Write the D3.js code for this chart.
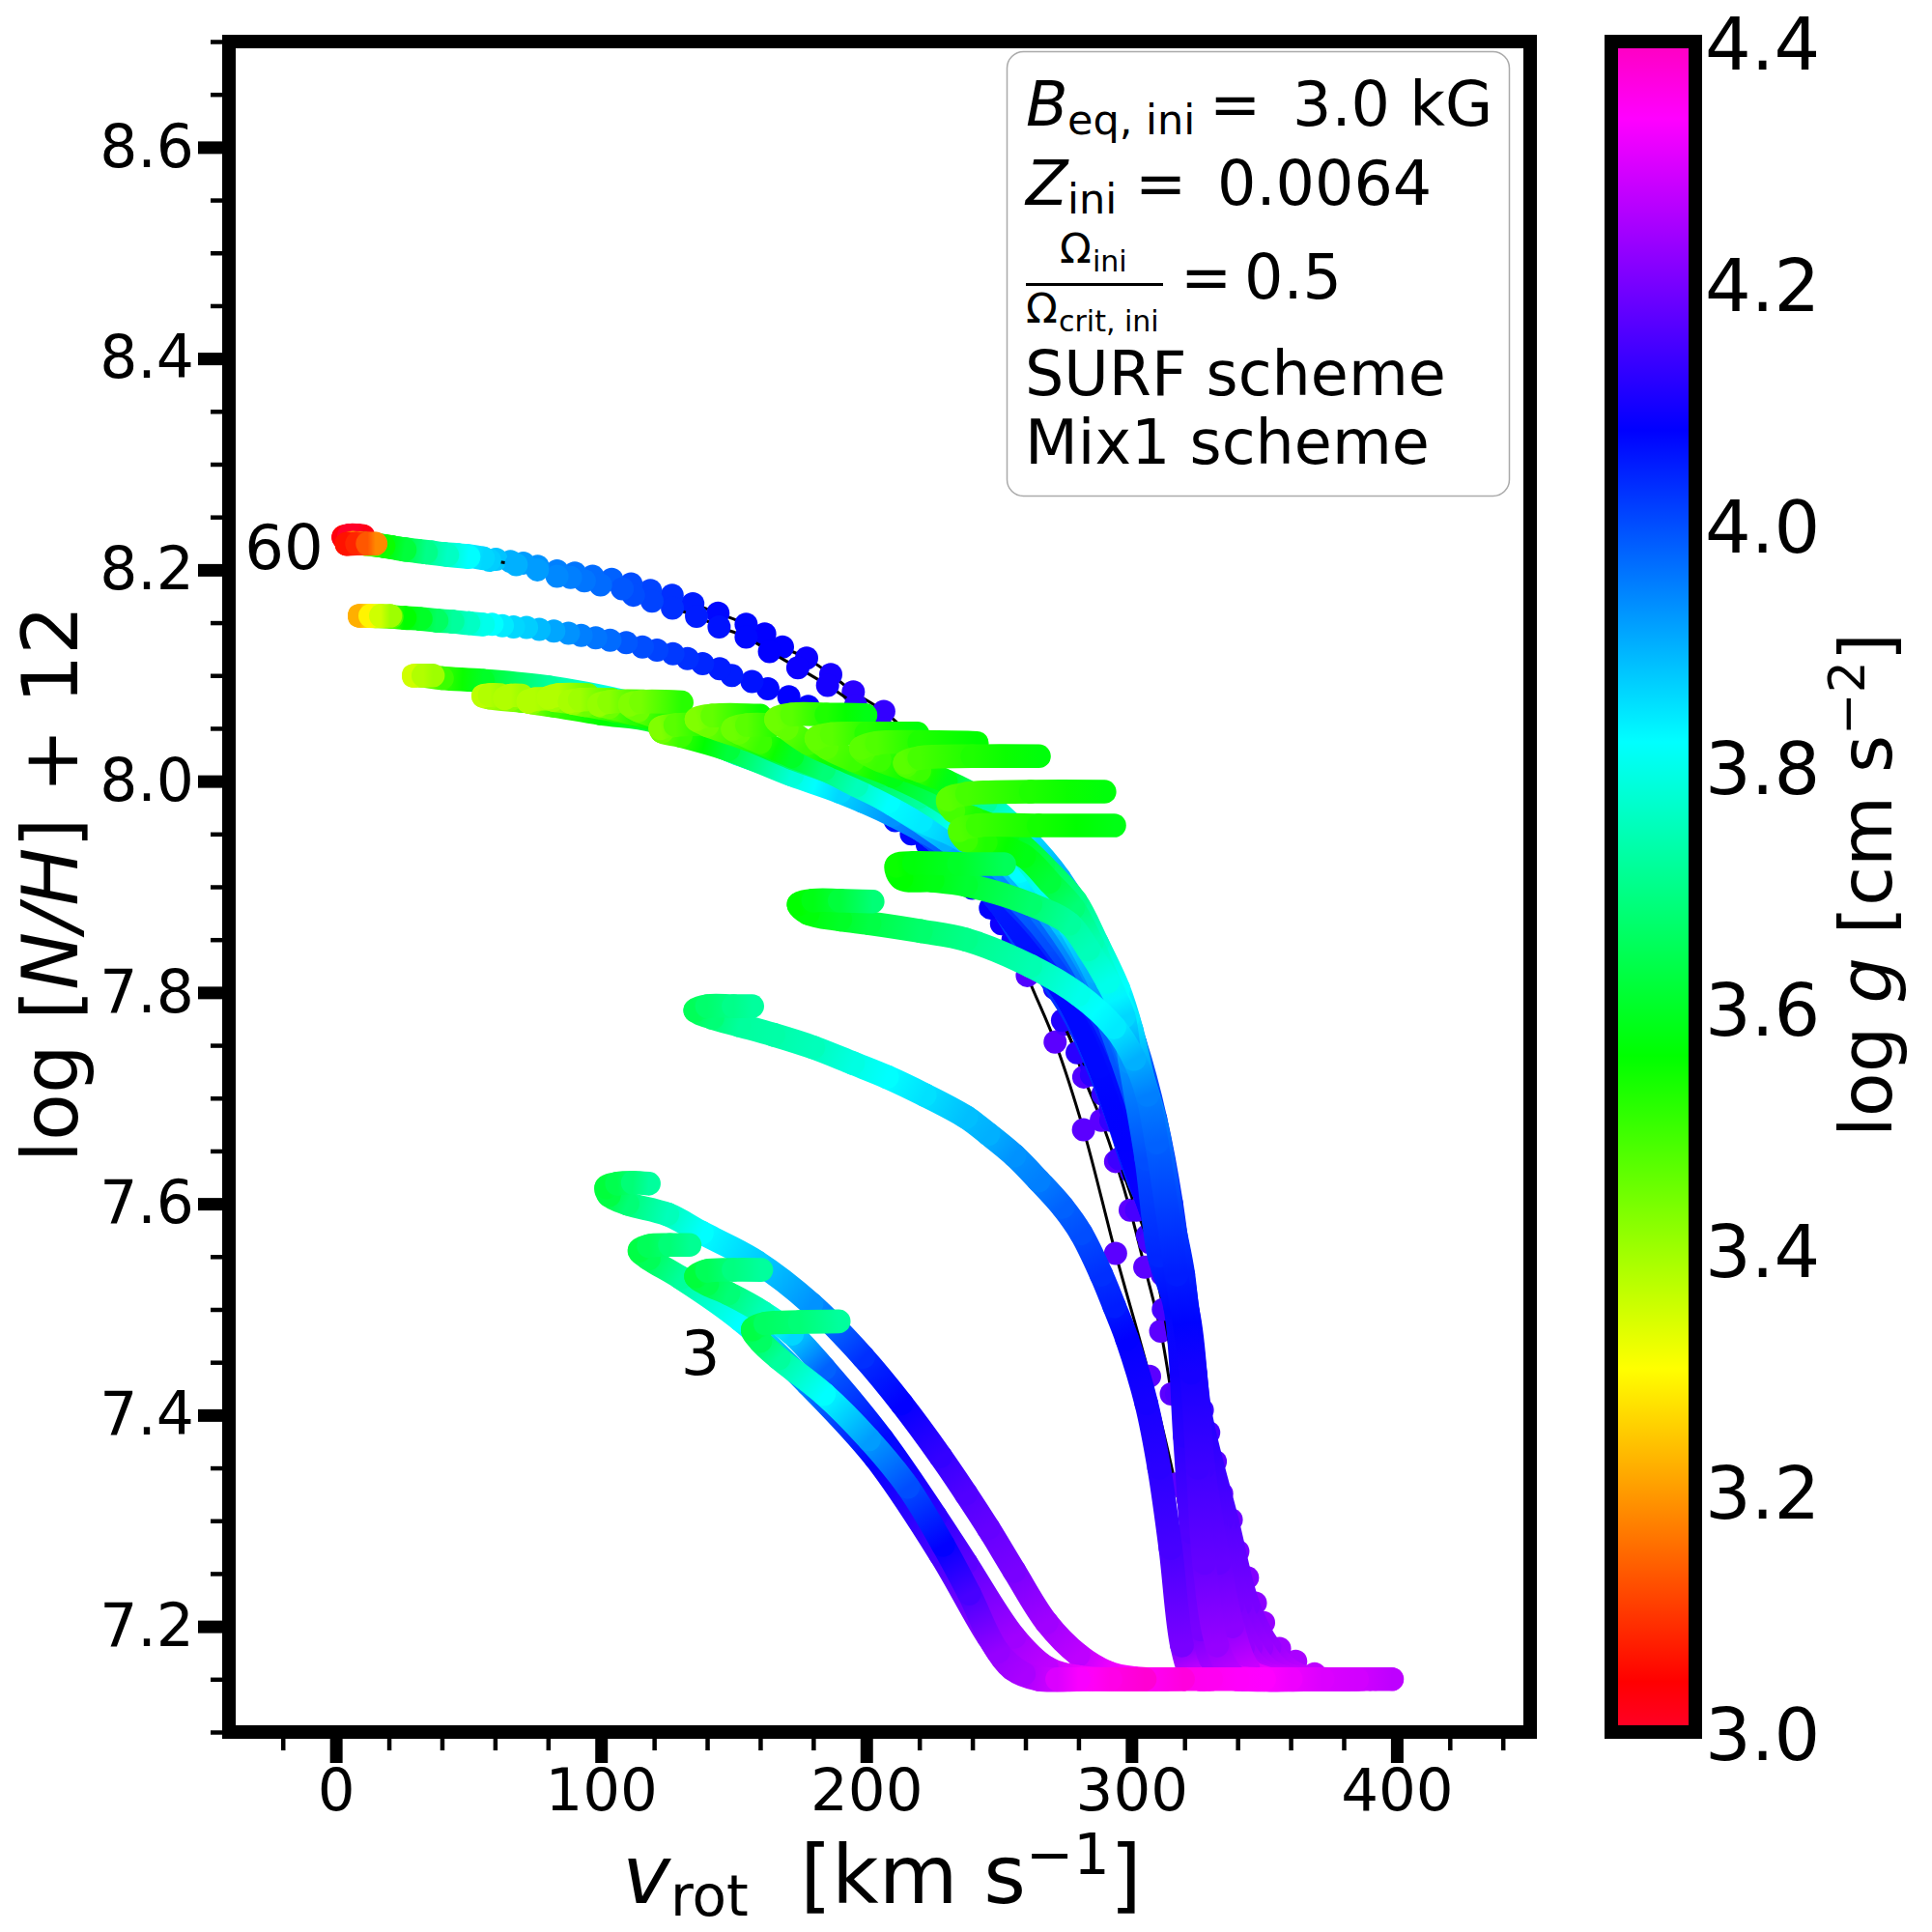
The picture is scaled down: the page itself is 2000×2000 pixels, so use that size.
<!DOCTYPE html>
<html>
<head>
<meta charset="utf-8">
<script src="https://cdn.jsdelivr.net/npm/d3@7"></script>
<style>
  body { margin: 0; background: #fff; }
  text { font-family: "DejaVu Sans"; fill: #000; white-space: pre; }
</style>
</head>
<body>
<div id="chart"></div>
<script>
const SIZE = { width: 2000, height: 2000 }
const AXES = { left: 237, right: 1584, top: 43, bottom: 1793 }
const CBAR = { left: 1668, right: 1755, top: 43, bottom: 1793 }
const DOT_RADIUS = 12
const BAND_WIDTH = 24.6

const xDomain = [-40.3, 450.3]
const yDomain = [7.1, 8.7]
const gDomain = [3.0, 4.4]
const xMajor = [0, 100, 200, 300, 400]
const xMinor = [-20, 20, 40, 60, 80, 120, 140, 160, 180, 220, 240, 260, 280, 320, 340, 360, 380, 420, 440]
const yMajor = [7.2, 7.4, 7.6, 7.8, 8.0, 8.2, 8.4, 8.6]
const yMinor = [7.1, 7.15, 7.25, 7.3, 7.35, 7.45, 7.5, 7.55, 7.65, 7.7, 7.75, 7.85, 7.9, 7.95, 8.05, 8.1, 8.15, 8.25, 8.3, 8.35, 8.45, 8.5, 8.55, 8.65, 8.7]
const gTicks = [3.0, 3.2, 3.4, 3.6, 3.8, 4.0, 4.2, 4.4]

// gist_rainbow knots, in log g units
const cmapG = [3.0, 3.042, 3.301, 3.56, 3.82, 4.078, 4.336, 4.4]
const cmapColors = ['#ff0029', '#ff0000', '#ffff00', '#00ff00', '#00ffff', '#0000ff', '#ff00ff', '#ff00bf']

// every track is [vrot, log N/H + 12, log g], from ZAMS to the end of the hook
const track01 = [[398.2, 7.15, 4.27], [390, 7.15, 4.28], [382, 7.15, 4.29], [374, 7.15, 4.29], [366, 7.15, 4.29], [358, 7.15, 4.28], [350, 7.155, 4.27], [342, 7.165, 4.25], [332, 7.19, 4.22], [322, 7.26, 4.18], [316.5, 7.3347, 4.17], [306.8, 7.4368, 4.17], [294, 7.553, 4.17], [281.9, 7.67, 4.17], [271.2, 7.753, 4.17], [260.7, 7.816, 4.16], [254, 7.865, 4.15], [247, 7.91, 4.14], [240, 7.955, 4.14], [233, 7.99, 4.14], [225, 8.02, 4.14], [216, 8.045, 4.13], [206.6, 8.066, 4.13], [195.1, 8.0845, 4.12], [186.6, 8.101, 4.1], [177.5, 8.1165, 4.09], [168.4, 8.127, 4.08], [161.7, 8.1394, 4.08], [154.7, 8.1485, 4.07], [144.1, 8.159, 4.07], [134.6, 8.168, 4.05], [126.8, 8.176, 4.03], [118.6, 8.1805, 4.01], [111.3, 8.1866, 4.0], [104, 8.191, 3.98], [96.8, 8.194, 3.97], [90.1, 8.197, 3.96], [83.4, 8.199, 3.95], [76.1, 8.2034, 3.93], [70.7, 8.2064, 3.92], [65.8, 8.208, 3.9], [60.4, 8.21, 3.88], [55.5, 8.211, 3.86], [50, 8.213, 3.83], [46, 8.214, 3.8], [41, 8.215, 3.75], [36, 8.2165, 3.72], [31, 8.218, 3.67], [26, 8.2195, 3.62], [21, 8.2215, 3.58], [16, 8.2233, 3.54], [11, 8.225, 3.4], [7, 8.227, 3.2], [3.5, 8.229, 3.08], [2.9, 8.231, 3.03], [5, 8.2325, 3.0], [8, 8.2325, 3.0], [10.3, 8.232, 3.02]]
const track02 = [[392, 7.15, 4.28], [384, 7.15, 4.28], [377, 7.15, 4.28], [370, 7.15, 4.28], [362, 7.15, 4.28], [352, 7.152, 4.27], [340, 7.16, 4.25], [330, 7.19, 4.22], [324, 7.25, 4.19], [320, 7.33, 4.17], [315, 7.42, 4.17], [311, 7.4795, 4.17], [305, 7.54, 4.17], [299.5, 7.594, 4.17], [294, 7.64, 4.17], [288.6, 7.679, 4.17], [282, 7.72, 4.16], [275, 7.77, 4.15], [268, 7.82, 4.14], [260, 7.86, 4.14], [252, 7.9, 4.14], [245, 7.935, 4.14], [236, 7.97, 4.14], [226, 8.0, 4.14], [216, 8.025, 4.13], [206, 8.05, 4.13], [196, 8.072, 4.12], [185.4, 8.0906, 4.1], [174.2, 8.1074, 4.09], [163.5, 8.1226, 4.08], [154.7, 8.1363, 4.07], [144.5, 8.146, 4.06], [136, 8.156, 4.05], [126.9, 8.1637, 4.03], [119.2, 8.1705, 4.01], [112.2, 8.176, 4.0], [108, 8.182, 3.99], [99.8, 8.1857, 3.97], [93.7, 8.1897, 3.96], [88.5, 8.1927, 3.95], [83.4, 8.194, 3.94], [76, 8.2, 3.92], [68, 8.205, 3.9], [58, 8.209, 3.87], [50, 8.212, 3.82], [42, 8.214, 3.76], [34, 8.2165, 3.7], [26, 8.219, 3.62], [18, 8.2225, 3.55], [11, 8.2245, 3.42], [6.5, 8.2255, 3.2], [4.1, 8.2245, 3.06], [8, 8.2248, 3.08], [12, 8.2248, 3.13], [15, 8.2248, 3.18]]
const track03 = [[385, 7.15, 4.28], [378, 7.15, 4.28], [370, 7.15, 4.28], [362, 7.151, 4.28], [355, 7.152, 4.27], [342, 7.157, 4.25], [332, 7.18, 4.22], [325, 7.22, 4.19], [320, 7.33, 4.17], [317, 7.42, 4.16], [312, 7.5, 4.15], [306, 7.57, 4.14], [300, 7.63, 4.13], [292, 7.69, 4.12], [285, 7.73, 4.11], [276, 7.775, 4.11], [264, 7.84, 4.1], [252, 7.885, 4.1], [240, 7.925, 4.1], [228, 7.95, 4.1], [215, 7.985, 4.1], [202, 8.02, 4.1], [190, 8.05, 4.09], [178.1, 8.0708, 4.08], [170.8, 8.08, 4.08], [162.9, 8.0875, 4.07], [156.9, 8.0943, 4.06], [149.3, 8.1, 4.05], [144.7, 8.1064, 4.05], [138.3, 8.1113, 4.04], [132.6, 8.116, 4.03], [127.1, 8.1205, 4.02], [121.1, 8.124, 4.01], [115.6, 8.127, 4.0], [109.5, 8.131, 3.99], [103.4, 8.1333, 3.97], [98, 8.1357, 3.96], [92.5, 8.138, 3.95], [87.7, 8.14, 3.93], [82.2, 8.142, 3.91], [76.7, 8.1436, 3.89], [71.9, 8.1455, 3.87], [67, 8.146, 3.86], [62.8, 8.147, 3.84], [58.9, 8.1485, 3.82], [55.5, 8.1483, 3.8], [50, 8.1495, 3.76], [44, 8.151, 3.72], [38, 8.152, 3.66], [32, 8.1535, 3.6], [26, 8.1545, 3.56], [21, 8.1555, 3.48], [15, 8.156, 3.38], [9, 8.1565, 3.22], [13, 8.1565, 3.29], [17, 8.1565, 3.35], [20.5, 8.1565, 3.4]]
const track04Lower = [[322.6, 7.1625, 4.25], [322, 7.24, 4.21], [321.4, 7.32, 4.18], [319.7, 7.44, 4.15], [315.3, 7.5055, 4.15], [311.6, 7.533, 4.15], [306.8, 7.5634, 4.15], [301.9, 7.594, 4.15], [295.3, 7.6426, 4.14], [292.2, 7.679, 4.13], [289.2, 7.7036, 4.13], [284.9, 7.722, 4.12], [279.5, 7.743, 4.12], [274, 7.7737, 4.11], [271, 7.804, 4.1], [264, 7.825, 4.09], [255.3, 7.85, 4.09], [251, 7.865, 4.09], [246.8, 7.88, 4.08], [240, 7.8986, 4.08], [232, 7.92, 4.08], [223, 7.94, 4.07], [217, 7.95, 4.07], [210.9, 7.9626, 4.06], [198.7, 7.981, 4.05], [190, 7.992, 4.03], [180, 8.004, 4.02], [170, 8.018, 4.0], [160, 8.03, 3.98], [155, 8.036, 3.97]]
const track04Upper = [[150, 8.042, 3.97], [130, 8.06, 3.9], [109, 8.075, 3.82], [80, 8.0888, 3.72], [55.5, 8.095, 3.6], [40, 8.0975, 3.5], [32, 8.1, 3.42], [29.4, 8.0998, 3.35], [33, 8.1, 3.38], [36.6, 8.1, 3.4]]
const track05Lower = [[390, 7.15, 4.28], [382, 7.15, 4.28], [375, 7.15, 4.28], [369, 7.155, 4.27], [361.9, 7.167, 4.25], [355.8, 7.179, 4.24], [349.8, 7.2036, 4.23], [346.7, 7.222, 4.22], [343.7, 7.246, 4.21], [340.1, 7.271, 4.2], [337.6, 7.301, 4.19], [334, 7.3255, 4.18], [331.6, 7.356, 4.17], [329.1, 7.3834, 4.15], [326.7, 7.4048, 4.14], [324.3, 7.429, 4.13], [321.8, 7.472, 4.11], [318.8, 7.518, 4.09]]
const track05Upper = [[318.8, 7.518, 4.09], [314, 7.56, 4.07], [303, 7.62, 4.05], [292, 7.7, 4.04], [278, 7.78, 4.03], [259, 7.85, 4.02], [243, 7.91, 4.0], [218, 7.96, 3.96], [190, 8.0, 3.9], [150, 8.04, 3.75], [120, 8.06, 3.62], [90, 8.0715, 3.52], [70, 8.076, 3.44], [58, 8.079, 3.4], [55.6, 8.0806, 3.37], [58, 8.0815, 3.38], [62, 8.0815, 3.4]]

// hidden middle part, read just inside the scalloped lower edge of the band
const bodyLow = [[312, 7.56, 4.09], [298, 7.66, 4.08], [288, 7.73, 4.07], [277, 7.79, 4.07], [259, 7.855, 4.06], [245, 7.9, 4.05], [228, 7.94, 4.02], [212, 7.968, 3.97], [190, 7.992, 3.9], [170, 8.01, 3.85], [148, 8.03, 3.75]]

const track06 = [[387, 7.15, 4.285], [362, 7.155, 4.27], [352, 7.18, 4.23], [344, 7.22, 4.2], [336, 7.3, 4.16], [326, 7.4, 4.11], [321, 7.5, 4.08], ...bodyLow, [120, 8.058, 3.62], [100, 8.066, 3.56], [75, 8.0745, 3.5], [66, 8.0775, 3.42], [63.8, 8.0785, 3.38], [66, 8.081, 3.38], [70, 8.081, 3.4]]
const track07 = [[384, 7.15, 4.29], [358, 7.155, 4.27], [349, 7.18, 4.23], [341, 7.22, 4.2], [334, 7.3, 4.16], [325, 7.4, 4.11], [320, 7.5, 4.08], ...bodyLow, [120, 8.057, 3.62], [100, 8.064, 3.56], [82, 8.0715, 3.5], [74, 8.0745, 3.42], [72.6, 8.0754, 3.38], [75, 8.0775, 3.38], [80, 8.078, 3.4]]
const track08 = [[381, 7.15, 4.29], [354, 7.155, 4.27], [345, 7.18, 4.23], [338, 7.22, 4.2], [332, 7.3, 4.16], [324, 7.4, 4.11], [319.5, 7.5, 4.08], ...bodyLow, [120, 8.06, 3.6], [100, 8.07, 3.52], [88, 8.075, 3.45], [82, 8.077, 3.4], [80.3, 8.079, 3.38], [84, 8.0815, 3.38], [95, 8.0815, 3.45]]
const track09 = [[378, 7.15, 4.295], [351, 7.155, 4.27], [342, 7.18, 4.23], [336, 7.22, 4.2], [331, 7.3, 4.16], [323.5, 7.4, 4.11], [319, 7.5, 4.08], ...bodyLow, [120, 8.058, 3.6], [105, 8.067, 3.52], [94, 8.072, 3.45], [89.5, 8.074, 3.41], [88.2, 8.0754, 3.39], [92, 8.077, 3.4], [104, 8.077, 3.47]]
const track10 = [[375, 7.15, 4.3], [348, 7.155, 4.27], [339, 7.18, 4.23], [333, 7.22, 4.2], [329, 7.3, 4.16], [323, 7.4, 4.11], [319, 7.5, 4.08], ...bodyLow, [125, 8.056, 3.58], [112, 8.064, 3.52], [103, 8.07, 3.45], [99.3, 8.0724, 3.41], [103, 8.075, 3.42], [116, 8.0755, 3.5]]
const track11 = [[372, 7.15, 4.3], [345, 7.155, 4.27], [336, 7.18, 4.23], [331, 7.22, 4.2], [328, 7.3, 4.16], [322.5, 7.4, 4.11], [318.5, 7.5, 4.08], ...bodyLow, [135, 8.05, 3.6], [122, 8.06, 3.52], [114, 8.067, 3.45], [110.9, 8.0724, 3.43], [115, 8.075, 3.44], [130.4, 8.0745, 3.52]]
const track12 = [[369, 7.15, 4.305], [342, 7.155, 4.27], [334, 7.18, 4.23], [330, 7.22, 4.2], [327, 7.3, 4.16], [322, 7.4, 4.11], [318, 7.5, 4.1], [314, 7.57, 4.09], [308, 7.64, 4.08], [300, 7.7, 4.07], [288, 7.775, 4.06], [270, 7.845, 4.04], [250, 7.9, 4.02], [230, 7.94, 3.99], [210, 7.968, 3.93], [190, 7.99, 3.86], [172, 8.006, 3.78], [148, 8.03, 3.62], [130, 8.043, 3.5], [123, 8.047, 3.45], [122.4, 8.05, 3.43], [128, 8.053, 3.47], [143, 8.054, 3.55]]
const track13 = [[366, 7.15, 4.31], [339, 7.155, 4.27], [332, 7.18, 4.23], [328, 7.22, 4.2], [326, 7.3, 4.16], [321.5, 7.4, 4.11], [318, 7.5, 4.09], [314, 7.58, 4.08], [308, 7.65, 4.07], [299, 7.72, 4.05], [287, 7.785, 4.03], [270, 7.85, 4.0], [250, 7.905, 3.97], [230, 7.945, 3.9], [210, 7.978, 3.82], [190, 8.005, 3.74], [172, 8.022, 3.66], [155, 8.04, 3.52], [140, 8.053, 3.45], [136, 8.0586, 3.43], [142, 8.062, 3.46], [160, 8.062, 3.55]]
const track14 = [[363, 7.15, 4.315], [337, 7.155, 4.27], [330, 7.18, 4.23], [327, 7.22, 4.2], [325, 7.3, 4.16], [321, 7.4, 4.11], [318, 7.5, 4.08], [313, 7.58, 4.06], [300, 7.73, 4.03], [288, 7.795, 4.01], [272, 7.855, 3.98], [254, 7.91, 3.94], [236, 7.945, 3.88], [220.6, 7.9626, 3.84], [208.4, 7.981, 3.82], [196.3, 7.996, 3.75], [184, 8.0114, 3.68], [172, 8.0236, 3.6], [160, 8.037, 3.5], [152, 8.046, 3.46], [149.7, 8.0495, 3.45], [155, 8.053, 3.47], [165, 8.053, 3.52]]
const track15 = [[360, 7.15, 4.32], [335, 7.155, 4.27], [328, 7.18, 4.23], [326, 7.22, 4.2], [324, 7.3, 4.16], [320.5, 7.4, 4.11], [318, 7.51, 4.08], [313, 7.59, 4.05], [305, 7.67, 4.02], [296, 7.74, 3.99], [285, 7.81, 3.96], [270, 7.87, 3.92], [252, 7.925, 3.88], [235, 7.96, 3.82], [220, 7.985, 3.72], [205, 8.005, 3.65], [190, 8.022, 3.58], [178, 8.036, 3.5], [170, 8.05, 3.46], [166, 8.0586, 3.45], [172, 8.063, 3.47], [185, 8.063, 3.53], [199.7, 8.0625, 3.58]]
const track16 = [[357, 7.15, 4.325], [333, 7.155, 4.27], [327, 7.18, 4.23], [325, 7.22, 4.2], [323, 7.3, 4.16], [320, 7.4, 4.11], [318, 7.52, 4.07], [314, 7.59, 4.04], [306, 7.67, 4.01], [298, 7.74, 3.98], [288, 7.805, 3.95], [274, 7.865, 3.88], [258, 7.915, 3.82], [242, 7.955, 3.72], [226, 7.985, 3.65], [210, 8.005, 3.58], [195, 8.02, 3.5], [185, 8.032, 3.47], [181.2, 8.0404, 3.46], [187, 8.0445, 3.47], [200, 8.045, 3.52], [219.3, 8.045, 3.57]]
const track17 = [[354, 7.15, 4.33], [331, 7.155, 4.27], [326, 7.18, 4.23], [324, 7.22, 4.2], [322.5, 7.3, 4.16], [320, 7.4, 4.11], [317, 7.56, 4.06], [312, 7.62, 4.03], [304, 7.7, 3.99], [296, 7.76, 3.95], [286, 7.82, 3.9], [275, 7.87, 3.84], [262, 7.92, 3.78], [248, 7.96, 3.7], [232, 7.992, 3.62], [216, 8.01, 3.55], [205, 8.02, 3.5], [199, 8.028, 3.48], [198, 8.0312, 3.47], [204, 8.036, 3.48], [220, 8.037, 3.53], [241.7, 8.036, 3.56]]
const track18 = [[351, 7.15, 4.335], [342, 7.155, 4.27], [338, 7.18, 4.23], [335, 7.22, 4.2], [331, 7.3, 4.16], [325, 7.4, 4.11], [320, 7.5, 4.08], [315, 7.6, 4.04], [309, 7.68, 4.02], [301.3, 7.752, 3.98], [287.4, 7.844, 3.94], [272.8, 7.908, 3.9], [259.5, 7.947, 3.85], [245, 7.98, 3.72], [230, 8.0, 3.58], [220, 8.01, 3.5], [215, 8.015, 3.48], [214.6, 8.0175, 3.47], [220, 8.022, 3.49], [240, 8.0236, 3.53], [265.1, 8.0236, 3.57]]
const track19 = [[352, 7.15, 4.33], [340, 7.164, 4.26], [335, 7.2, 4.22], [331, 7.26, 4.18], [327, 7.35, 4.14], [324, 7.44, 4.1], [318, 7.551, 4.05], [310, 7.642, 3.99], [305.5, 7.703, 3.94], [300, 7.7645, 3.88], [295, 7.804, 3.82], [287, 7.8468, 3.76], [278.9, 7.8864, 3.7], [266.7, 7.92, 3.64], [253.4, 7.95, 3.58], [240, 7.965, 3.53], [232.8, 7.972, 3.49], [230.8, 7.9825, 3.47], [238, 7.988, 3.49], [262, 7.99, 3.53], [289.8, 7.99, 3.57]]
const track20 = [[350, 7.15, 4.335], [344, 7.16, 4.28], [338, 7.2, 4.22], [333, 7.26, 4.18], [327, 7.35, 4.14], [323, 7.44, 4.1], [319.5, 7.533, 4.05], [315.8, 7.5817, 4.02], [309.5, 7.673, 3.96], [302.5, 7.734, 3.9], [298.5, 7.776, 3.84], [292, 7.807, 3.8], [285, 7.8468, 3.74], [278, 7.88, 3.68], [269, 7.9047, 3.62], [259.5, 7.929, 3.58], [245, 7.942, 3.53], [237.6, 7.944, 3.5], [235.3, 7.9535, 3.48], [242, 7.958, 3.5], [265, 7.958, 3.54], [293.5, 7.958, 3.58]]
const track21 = [[347, 7.15, 4.34], [338.4, 7.152, 4.28], [332.3, 7.16, 4.25], [326.2, 7.197, 4.2], [322.6, 7.289, 4.16], [320.1, 7.38, 4.12], [316.5, 7.502, 4.07], [310.4, 7.551, 4.04], [305.6, 7.6426, 4.0], [299.5, 7.734, 3.93], [297, 7.777, 3.86], [291, 7.81, 3.8], [283.7, 7.8407, 3.75], [276.5, 7.865, 3.72], [261.9, 7.8834, 3.67], [237.6, 7.9017, 3.61], [225, 7.906, 3.58], [213.3, 7.908, 3.56], [211.4, 7.92, 3.55], [218, 7.9225, 3.57], [235, 7.9215, 3.6], [252, 7.9215, 3.65]]
const track22 = [[344, 7.15, 4.345], [338, 7.155, 4.27], [332.3, 7.182, 4.23], [327.4, 7.26, 4.18], [325, 7.35, 4.14], [322.6, 7.44, 4.1], [317, 7.533, 4.05], [309.5, 7.658, 3.98], [306, 7.703, 3.95], [301, 7.737, 3.9], [293.5, 7.767, 3.84], [280, 7.798, 3.8], [261.9, 7.825, 3.74], [237.6, 7.85, 3.7], [220.6, 7.858, 3.67], [201.2, 7.8655, 3.63], [190.2, 7.869, 3.6], [178, 7.875, 3.57], [174.5, 7.8834, 3.56], [180, 7.887, 3.58], [190, 7.887, 3.62], [202.4, 7.886, 3.68]]
const track23 = [[329, 7.15, 4.35], [326, 7.15, 4.33], [322.6, 7.155, 4.28], [319, 7.182, 4.2], [314.7, 7.274, 4.15], [310.4, 7.35, 4.12], [305.6, 7.411, 4.1], [298.3, 7.472, 4.08], [293.5, 7.503, 4.05], [288.6, 7.533, 4.03], [281, 7.572, 4.0], [274, 7.597, 3.98], [265, 7.622, 3.95], [255.8, 7.6457, 3.93], [246, 7.666, 3.9], [237.6, 7.682, 3.885], [222, 7.703, 3.85], [207.8, 7.72, 3.82], [195, 7.733, 3.79], [180, 7.748, 3.75], [165, 7.76, 3.73], [152.1, 7.769, 3.72], [142, 7.776, 3.68], [135.5, 7.783, 3.65], [140, 7.787, 3.67], [150, 7.787, 3.7], [157, 7.787, 3.72]]
const track24 = [[319.4, 7.15, 4.36], [300.7, 7.151, 4.34], [291, 7.1564, 4.32], [280, 7.173, 4.27], [268, 7.2036, 4.24], [255.8, 7.2524, 4.2], [246, 7.293, 4.18], [237.6, 7.3255, 4.16], [228, 7.361, 4.13], [213.3, 7.411, 4.08], [198.8, 7.455, 4.03], [179.3, 7.505, 3.93], [158.7, 7.545, 3.87], [138, 7.5725, 3.82], [125, 7.59, 3.75], [110, 7.6, 3.68], [103, 7.608, 3.63], [102, 7.6155, 3.62], [106, 7.619, 3.64], [112, 7.62, 3.68], [118, 7.619, 3.72]]
const track25 = [[313, 7.15, 4.365], [280, 7.15, 4.31], [265, 7.15, 4.27], [255, 7.16, 4.24], [246, 7.19, 4.22], [228, 7.268, 4.15], [203.6, 7.359, 4.08], [178.1, 7.429, 3.95], [152.6, 7.49, 3.82], [130, 7.53, 3.72], [118, 7.548, 3.65], [114.5, 7.5557, 3.63], [118, 7.56, 3.65], [126, 7.561, 3.68], [133.4, 7.561, 3.71]]
const track26 = [[309, 7.15, 4.37], [280, 7.152, 4.32], [268, 7.161, 4.27], [255.8, 7.19, 4.24], [237.6, 7.26, 4.17], [226.1, 7.3043, 4.12], [206, 7.3774, 4.07], [184.2, 7.444, 3.98], [172, 7.477, 3.86], [161, 7.497, 3.75], [148, 7.515, 3.68], [140, 7.524, 3.64], [135.8, 7.5313, 3.62], [140, 7.5365, 3.65], [150, 7.5375, 3.69], [160.4, 7.5374, 3.72]]
const track27 = [[305, 7.15, 4.375], [285, 7.15, 4.34], [269, 7.15, 4.28], [259.4, 7.155, 4.25], [249.7, 7.176, 4.23], [238.8, 7.231, 4.15], [229, 7.277, 4.08], [215.7, 7.332, 4.0], [201, 7.377, 3.92], [184, 7.42, 3.82], [167, 7.4536, 3.72], [160, 7.47, 3.66], [157.2, 7.481, 3.63], [162, 7.4865, 3.66], [175, 7.488, 3.68], [189.6, 7.4887, 3.72]]

// the flat start of the tracks stays on top of everything in the picture
const zamsRight = [[398.2, 7.15, 4.27], [385, 7.15, 4.29], [372, 7.15, 4.3], [360, 7.15, 4.32], [350, 7.15, 4.335], [340, 7.15, 4.34], [330, 7.15, 4.35], [320.5, 7.15, 4.355]]
const zamsMiddle = [[319.4, 7.15, 4.37], [306, 7.15, 4.345]]
const zamsLeft = [[305, 7.15, 4.38], [292, 7.15, 4.36], [280, 7.15, 4.33], [272, 7.15, 4.3]]

const dotTracks = [track01, track02, track03, track04Lower, track05Lower]
const bandTracks = [track01.filter(d => d[0] < 58), track02.filter(d => d[0] < 58), track03.filter(d => d[0] < 58), track04Upper, track05Upper, track06, track07, track08, track09, track10, track11, track12, track13, track14, track15, track16, track17, track18, track19, track20, track21, track22, track23, track24, track25, track26, track27, zamsRight, zamsMiddle, zamsLeft]

const xScale = d3.scaleLinear().domain(xDomain).range([AXES.left, AXES.right])
const yScale = d3.scaleLinear().domain(yDomain).range([AXES.bottom, AXES.top])
const gScale = d3.scaleLinear().domain(gDomain).range([CBAR.bottom, CBAR.top])
const colour = d3.scaleLinear().domain(cmapG).range(cmapColors).clamp(true)
const trackLine = d3.line()
  .x(d => xScale(d[0]))
  .y(d => yScale(d[1]))
  .curve(d3.curveCatmullRom)

function defineSVG (params) {
  const { selector, size } = params
  return d3.select(selector)
    .append('svg')
    .attr('width', size.width)
    .attr('height', size.height)
    .style('display', 'block')
}

function drawDots (container, track) {
  container.append('path')
    .attr('d', trackLine(track))
    .attr('fill', 'none')
    .attr('stroke', '#000')
    .attr('stroke-width', 3)
  container.append('g')
    .selectAll('circle')
    .data(track)
    .enter()
    .append('circle')
    .attr('cx', d => xScale(d[0]))
    .attr('cy', d => yScale(d[1]))
    .attr('r', DOT_RADIUS)
    .attr('fill', d => colour(d[2]))
}

// the curve generator writes one bezier per pair of points: keep them apart
function curvePieces (track) {
  const pieces = []
  let last
  const context = {
    moveTo (x, y) { last = [x, y] },
    lineTo (x, y) {
      pieces.push(`M${last}L${x},${y}`)
      last = [x, y]
    },
    bezierCurveTo (a, b, c, d, x, y) {
      pieces.push(`M${last}C${a},${b},${c},${d},${x},${y}`)
      last = [x, y]
    },
    closePath () {},
  }
  d3.line()
    .x(d => xScale(d[0]))
    .y(d => yScale(d[1]))
    .curve(d3.curveCatmullRom)
    .context(context)(track)
  return pieces
}

// one stroked piece per pair of points, its colour running from one log g to the next
function drawBand (container, defs, track, index) {
  const pieces = curvePieces(track)
  d3.pairs(track).forEach(([a, b], i) => {
    const id = `band-${index}-${i}`
    const gradient = defs.append('linearGradient')
      .attr('id', id)
      .attr('gradientUnits', 'userSpaceOnUse')
      .attr('x1', xScale(a[0]))
      .attr('y1', yScale(a[1]))
      .attr('x2', xScale(b[0]))
      .attr('y2', yScale(b[1]))
    gradient.append('stop').attr('offset', 0).attr('stop-color', colour(a[2]))
    gradient.append('stop').attr('offset', 0.5).attr('stop-color', colour((a[2] + b[2]) / 2))
    gradient.append('stop').attr('offset', 1).attr('stop-color', colour(b[2]))
    container.append('path')
      .attr('d', pieces[i])
      .attr('fill', 'none')
      .attr('stroke', `url(#${id})`)
      .attr('stroke-width', BAND_WIDTH)
      .attr('stroke-linecap', 'round')
  })
}

function drawAxes (svg) {
  const bottom = svg.append('g').attr('transform', `translate(0,${AXES.bottom})`)
  const left = svg.append('g').attr('transform', `translate(${AXES.left},0)`)

  bottom.append('g')
    .call(d3.axisBottom(xScale).tickValues(xMinor).tickSize(19).tickFormat(''))
    .call(g => g.selectAll('line').attr('stroke-width', 4.5))
  bottom.append('g')
    .call(d3.axisBottom(xScale).tickValues(xMajor).tickSize(32).tickPadding(6).tickFormat(d3.format('d')))
    .call(g => g.selectAll('line').attr('stroke-width', 13))
    .call(g => g.selectAll('text').attr('font-size', 61).attr('font-family', 'DejaVu Sans'))

  left.append('g')
    .call(d3.axisLeft(yScale).tickValues(yMinor).tickSize(19).tickFormat(''))
    .call(g => g.selectAll('line').attr('stroke-width', 4.5))
  left.append('g')
    .call(d3.axisLeft(yScale).tickValues(yMajor).tickSize(32).tickPadding(4).tickFormat(d3.format('.1f')))
    .call(g => g.selectAll('line').attr('stroke-width', 13))
    .call(g => g.selectAll('text').attr('font-size', 61.5).attr('font-family', 'DejaVu Sans'))

  svg.selectAll('.domain').remove()
  svg.append('rect')
    .attr('x', AXES.left)
    .attr('y', AXES.top)
    .attr('width', AXES.right - AXES.left)
    .attr('height', AXES.bottom - AXES.top)
    .attr('fill', 'none')
    .attr('stroke', '#000')
    .attr('stroke-width', 14)
}

function drawColourbar (svg, defs) {
  const gradient = defs.append('linearGradient')
    .attr('id', 'cbar')
    .attr('x1', 0).attr('y1', 1).attr('x2', 0).attr('y2', 0)
  gradient.selectAll('stop')
    .data(cmapG)
    .enter()
    .append('stop')
    .attr('offset', d => (d - gDomain[0]) / (gDomain[1] - gDomain[0]))
    .attr('stop-color', d => colour(d))
  svg.append('rect')
    .attr('x', CBAR.left)
    .attr('y', CBAR.top)
    .attr('width', CBAR.right - CBAR.left)
    .attr('height', CBAR.bottom - CBAR.top)
    .attr('fill', 'url(#cbar)')
    .attr('stroke', '#000')
    .attr('stroke-width', 14)
  svg.append('g')
    .attr('transform', `translate(${CBAR.right},0)`)
    .call(d3.axisRight(gScale).tickValues(gTicks).tickSize(0).tickPadding(10).tickFormat(d3.format('.1f')))
    .call(g => g.select('.domain').remove())
    .call(g => g.selectAll('text').attr('font-size', 75).attr('font-family', 'DejaVu Sans').attr('dy', '0.38em'))
}

function addRuns (selection, runs) {
  runs.forEach(run => {
    selection.append('tspan')
      .attr('dy', run.dy || 0)
      .attr('font-size', run.size || null)
      .attr('font-style', run.italic ? 'italic' : null)
      .text(run.text)
  })
}

function label (svg, x, y, size, runs, rotate) {
  const text = svg.append('text')
    .attr('font-size', size)
    .attr('transform', `translate(${x},${y})${rotate ? ' rotate(-90)' : ''}`)
    .attr('text-anchor', 'middle')
  addRuns(text, runs)
  return text
}

function place (svg, x, y, size, str, italic) {
  svg.append('text')
    .attr('x', x)
    .attr('y', y)
    .attr('font-size', size)
    .attr('font-style', italic ? 'italic' : null)
    .text(str)
}

function drawLegend (svg) {
  svg.append('rect')
    .attr('x', 1042.5)
    .attr('y', 53.5)
    .attr('width', 520)
    .attr('height', 460)
    .attr('rx', 17)
    .attr('fill', '#fff')
    .attr('stroke', '#aaa')
    .attr('stroke-width', 1.5)

  place(svg, 1062, 130, 63.5, 'B', true)
  place(svg, 1105, 139, 43, 'eq, ini')
  place(svg, 1252, 130, 63.5, '=')
  place(svg, 1338, 130, 63.5, '3.0 kG')

  place(svg, 1062, 212, 63.5, 'Z', true)
  place(svg, 1105, 221, 43, 'ini')
  place(svg, 1175, 212, 63.5, '=')
  place(svg, 1260, 212, 63.5, '0.0064')

  place(svg, 1097, 272, 43, 'Ω')
  place(svg, 1131, 281, 30, 'ini')
  svg.append('rect').attr('x', 1062).attr('y', 293).attr('width', 142).attr('height', 3).attr('fill', '#000')
  place(svg, 1062, 334, 43, 'Ω')
  place(svg, 1096, 343, 30, 'crit, ini')
  place(svg, 1222, 309, 63.5, '=')
  place(svg, 1288, 309, 63.5, '0.5')

  place(svg, 1061, 409, 63.5, 'SURF scheme')
  place(svg, 1061, 480, 63.5, 'Mix1 scheme')
}

function drawChart () {
  const svg = defineSVG({ selector: '#chart', size: SIZE })
  const defs = svg.append('defs')
  defs.append('clipPath').attr('id', 'plot-area')
    .append('rect')
    .attr('x', AXES.left)
    .attr('y', AXES.top)
    .attr('width', AXES.right - AXES.left)
    .attr('height', AXES.bottom - AXES.top)

  const plot = svg.append('g').attr('clip-path', 'url(#plot-area)')
  dotTracks.forEach(track => drawDots(plot, track))
  bandTracks.forEach((track, i) => drawBand(plot, defs, track, i))

  label(svg, 294, 589, 64, [{ text: '60' }])
  label(svg, 725, 1423, 64, [{ text: '3' }])

  drawAxes(svg)
  drawColourbar(svg, defs)
  drawLegend(svg)

  label(svg, 913, 1970, 84, [
    { text: 'v', italic: true },
    { text: 'rot', size: 58, dy: 13 },
    { text: '  [km s', dy: -13 },
    { text: '−1', size: 59, dy: -30 },
    { text: ']', dy: 30 },
  ])
  label(svg, 80, 915, 80, [
    { text: 'log [' },
    { text: 'N/H', italic: true },
    { text: '] + 12' },
  ], true)
  label(svg, 1958, 916, 75, [
    { text: 'log ' },
    { text: 'g', italic: true },
    { text: ' [cm s' },
    { text: '−2', size: 52, dy: -28 },
    { text: ']', dy: 28 },
  ], true)
}

drawChart()
</script>
</body>
</html>
